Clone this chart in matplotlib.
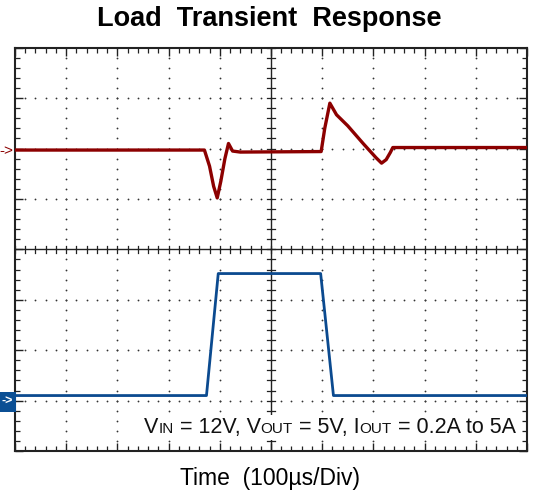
import matplotlib
matplotlib.use("Agg")
import matplotlib.pyplot as plt
from matplotlib.offsetbox import TextArea, HPacker, AnchoredOffsetbox

plt.rcParams['font.family'] = ['Liberation Sans', 'DejaVu Sans']

# screen is 10 x 8 divisions, 100us/div
# output voltage (AC coupled), channel 1
vout_t = [0.0, 3.70, 3.80, 3.88, 3.95, 4.02, 4.10, 4.17, 4.25, 4.40,
          5.98, 6.05, 6.15, 6.28, 6.50, 6.80, 7.05, 7.16, 7.25, 7.33, 7.38, 10.0]
vout_v = [5.97, 5.97, 5.65, 5.25, 5.02, 5.35, 5.80, 6.10, 5.95, 5.93,
          5.94, 6.40, 6.90, 6.67, 6.45, 6.10, 5.82, 5.71, 5.78, 5.92, 6.02, 6.02]

# load current, channel 2
iout_t = [0.0, 3.74, 3.97, 5.97, 6.22, 10.0]
iout_v = [1.10, 1.10, 3.52, 3.52, 1.10, 1.10]

red = '#8c0000'
blue = '#0b4a8f'

fig = plt.figure(figsize=(5.39, 4.95), dpi=100)
ax = fig.add_axes([0.0278, 0.0889, 0.9499, 0.8147])
ax.set_xlim(0, 10)
ax.set_ylim(0, 8)

# dotted graticule
for gx in range(1, 10):
    ax.plot([gx] * 41, [i * 0.2 for i in range(41)], ls='none', marker='o',
            ms=1.3, color='#333333', mew=0, zorder=1)
for gy in range(1, 8):
    ax.plot([i * 0.2 for i in range(51)], [gy] * 51, ls='none', marker='o',
            ms=1.3, color='#333333', mew=0, zorder=1)

# centre axes with small ticks
ax.axhline(4, color='#222222', lw=1.0, zorder=2)
ax.axvline(5, color='#222222', lw=1.0, zorder=2)
for i in range(51):
    ax.plot([i * 0.2, i * 0.2], [3.93, 4.07], color='#222222', lw=0.9, zorder=2)
for i in range(41):
    ax.plot([4.92, 5.08], [i * 0.2, i * 0.2], color='#222222', lw=0.9, zorder=2)

ax.plot(vout_t, vout_v, color=red, lw=2.4, zorder=3)
ax.plot(iout_t, iout_v, color=blue, lw=2.0, zorder=3)

ax.set_xticks(range(11))
ax.set_yticks(range(9))
ax.set_xticks([i * 0.2 for i in range(51)], minor=True)
ax.set_yticks([i * 0.2 for i in range(41)], minor=True)
ax.tick_params(which='both', direction='in', top=True, right=True,
               labelbottom=False, labelleft=False, color='#222222')
ax.tick_params(which='major', length=6, width=1.0)
ax.tick_params(which='minor', length=3.5, width=0.9)
for s in ax.spines.values():
    s.set_linewidth(1.5)
    s.set_color('#222222')

# channel markers
fig.text(0.012, 0.694, '->', color=red, fontsize=11, ha='center', va='center')
fig.text(0.013, 0.188, '->', color='white', fontsize=9, ha='center', va='center',
         fontweight='bold',
         bbox=dict(boxstyle='square,pad=0.3', fc='#0b4f94', ec='none'))

fig.text(0.5, 0.962, 'Load  Transient  Response', ha='center', va='center',
         fontsize=19.5, fontweight='bold')
fig.text(0.5, 0.033, 'Time  (100µs/Div)', ha='center', va='center', fontsize=16.5)

# condition note with small-caps style subscripts on the baseline
parts = [('V', 15.5), ('IN', 11), (' = 12V, V', 15.5), ('OUT', 11), (' = 5V, I', 15.5),
         ('OUT', 11), (' = 0.2A to 5A', 15.5)]
boxes = [TextArea(t, textprops=dict(fontsize=fs, color='#111111')) for t, fs in parts]
pack = HPacker(children=boxes, align='baseline', pad=0, sep=0)
anch = AnchoredOffsetbox(loc='lower right', child=pack, frameon=True,
                         bbox_to_anchor=(0.982, 0.028), bbox_transform=ax.transAxes,
                         borderpad=0, pad=0.15)
anch.patch.set_facecolor('white')
anch.patch.set_edgecolor('none')
anch.zorder = 4
ax.add_artist(anch)

fig.savefig('out.png', dpi=100)
